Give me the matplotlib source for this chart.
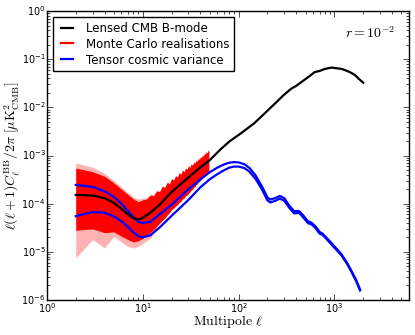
import matplotlib

matplotlib.use("Agg")

import matplotlib.pyplot as plt  # noqa: E402
from matplotlib.lines import Line2D  # noqa: E402

# ── data ──────────────────────────────────────────────────────────────────────

# lensed CMB B-mode (total) spectrum
ell_lens = [2, 3, 4, 5, 6, 7, 8, 9, 10, 12, 15, 20, 30, 40, 50, 65, 80, 106,
            146, 200, 250, 300, 355, 400, 452, 520, 623, 700, 800, 933, 1050,
            1186, 1300, 1450, 1637, 1800, 2000]
cl_lens = [1.52e-4, 1.48e-4, 1.3e-4, 1.04e-4, 7.8e-5, 6.0e-5, 5.0e-5, 4.7e-5,
           5.1e-5, 6.5e-5, 9.5e-5, 1.75e-4, 3.5e-4, 5.7e-4, 8.0e-4, 1.35e-3,
           1.95e-3, 2.9e-3, 4.7e-3, 8.5e-3, 1.3e-2, 1.85e-2, 2.45e-2, 2.8e-2,
           3.35e-2, 4.1e-2, 5.4e-2, 5.7e-2, 6.3e-2, 6.7e-2, 6.5e-2, 6.3e-2,
           5.9e-2, 5.4e-2, 4.7e-2, 3.9e-2, 3.25e-2]

# tensor spectrum +/- cosmic variance
ell_tens = [2, 3, 4, 5, 6, 7, 8, 9, 10, 12, 15, 20, 30, 40, 50, 60, 70, 80, 90,
            100, 115, 130, 150, 175, 200, 215, 240, 270, 300, 340, 380, 430,
            480, 530, 580, 640, 700, 750, 820, 933, 1050, 1186, 1350, 1510,
            1700, 1850]
tens_hi = [2.45e-4, 2.24e-4, 1.8e-4, 1.38e-4, 1.0e-4, 7.1e-5, 5.2e-5, 4.2e-5,
           3.95e-5, 4.2e-5, 6.0e-5, 9.5e-5, 2.0e-4, 3.2e-4, 4.5e-4, 5.6e-4,
           6.5e-4, 7.1e-4, 7.3e-4, 7.2e-4, 6.6e-4, 5.5e-4, 3.9e-4, 2.3e-4,
           1.35e-4, 1.22e-4, 1.3e-4, 1.45e-4, 1.3e-4, 9.0e-5, 7.0e-5, 7.0e-5,
           5.5e-5, 4.3e-5, 4.0e-5, 3.3e-5, 2.6e-5, 2.4e-5, 2.0e-5, 1.52e-5,
           1.17e-5, 8.9e-6, 6.0e-6, 4.0e-6, 2.5e-6, 1.65e-6]
tens_lo = [5.5e-5, 6.7e-5, 6.5e-5, 5.4e-5, 4.3e-5, 3.3e-5, 2.55e-5, 2.1e-5,
           2.0e-5, 2.2e-5, 3.2e-5, 5.6e-5, 1.2e-4, 2.2e-4, 3.2e-4, 4.1e-4,
           4.9e-4, 5.6e-4, 5.9e-4, 5.9e-4, 5.5e-4, 4.6e-4, 3.3e-4, 2.0e-4,
           1.17e-4, 1.06e-4, 1.14e-4, 1.28e-4, 1.15e-4, 8.1e-5, 6.3e-5, 6.4e-5,
           5.0e-5, 3.95e-5, 3.7e-5, 3.05e-5, 2.4e-5, 2.25e-5, 1.88e-5, 1.42e-5,
           1.1e-5, 8.4e-6, 5.7e-6, 3.8e-6, 2.38e-6, 1.58e-6]

# Monte Carlo realisations: envelope at each multipole 2..49
ell_mc = list(range(2, 50))
mc_hi = [5.5e-4, 4.6e-4, 3.7e-4, 2.7e-4, 2.0e-4, 1.55e-4, 1.25e-4, 1.1e-4, 1.2e-4,
         1.25e-4, 1.5e-4, 1.45e-4, 1.85e-4, 1.8e-4, 2.3e-4, 2.2e-4, 2.8e-4, 2.6e-4, 3.3e-4,
         3.1e-4, 3.8e-4, 3.6e-4, 4.4e-4, 4.1e-4, 5.0e-4, 4.6e-4, 5.5e-4, 5.2e-4, 6.1e-4,
         5.7e-4, 6.7e-4, 6.3e-4, 7.3e-4, 6.9e-4, 8.0e-4, 7.5e-4, 8.8e-4, 8.2e-4, 9.5e-4,
         9.0e-4, 1.03e-3, 9.7e-4, 1.12e-3, 1.05e-3, 1.21e-3, 1.13e-3, 1.3e-3, 1.22e-3]
mc_lo = [2.8e-5, 3.0e-5, 2.5e-5, 2.6e-5, 2.1e-5, 1.8e-5, 1.6e-5, 1.7e-5, 1.9e-5,
         2.2e-5, 2.5e-5, 2.9e-5, 3.4e-5, 3.9e-5, 4.5e-5, 5.0e-5, 5.8e-5, 6.5e-5, 7.5e-5,
         8.0e-5, 8.9e-5, 9.5e-5, 1.06e-4, 1.12e-4, 1.25e-4, 1.3e-4, 1.45e-4, 1.5e-4, 1.65e-4,
         1.72e-4, 1.9e-4, 1.98e-4, 2.18e-4, 2.25e-4, 2.48e-4, 2.55e-4, 2.8e-4, 2.86e-4, 3.1e-4,
         3.2e-4, 3.45e-4, 3.55e-4, 3.8e-4, 3.9e-4, 4.2e-4, 4.3e-4, 4.6e-4, 4.75e-4]

# faint outliers at the lowest multipoles (2..14)
ell_faint = list(range(2, 15))
faint_hi = [7.0e-4, 5.7e-4, 4.3e-4, 3.0e-4, 2.2e-4, 1.7e-4, 1.35e-4, 1.25e-4,
            1.3e-4, 1.35e-4, 1.6e-4, 1.55e-4, 1.95e-4]
faint_lo = [7.5e-6, 1.8e-5, 1.2e-5, 2.1e-5, 1.6e-5, 1.3e-5, 1.2e-5, 1.3e-5,
            1.5e-5, 1.7e-5, 1.9e-5, 2.5e-5, 3.0e-5]

# ── figure ────────────────────────────────────────────────────────────────────

plt.style.use("classic")
plt.rcParams["mathtext.fontset"] = "cm"

fig = plt.figure(figsize=(4.15, 3.35), dpi=100, facecolor="white")
ax = fig.add_axes([0.113, 0.1045, 0.8725, 0.8625])

ax.fill_between(ell_faint, faint_lo, faint_hi, color="red", alpha=0.3,
                linewidth=0, zorder=1)
ax.fill_between(ell_mc, mc_lo, mc_hi, color="red", linewidth=0, zorder=2)

ax.plot(ell_lens, cl_lens, color="black", lw=1.6, zorder=4)
ax.plot(ell_tens, tens_hi, color="blue", lw=1.6, zorder=3)
ax.plot(ell_tens, tens_lo, color="blue", lw=1.6, zorder=3)

ax.set_xscale("log")
ax.set_yscale("log")
ax.set_xlim(1, 6000)
ax.set_ylim(1e-6, 1)

ax.set_xlabel(r"${\rm Multipole}\ \ell$", fontsize=10)
ax.set_ylabel(r"$\ell(\ell+1)C_\ell^{\rm BB}/2\pi\ [\mu{\rm K}^2_{\rm CMB}]$",
              fontsize=10)
ax.xaxis.set_label_coords(0.5, -0.044)
ax.yaxis.set_label_coords(-0.07, 0.5)
ax.tick_params(labelsize=7, pad=1)

ax.text(0.962, 0.924, r"$r=10^{-2}$", transform=ax.transAxes,
        ha="right", va="center", fontsize=10)

handles = [
    Line2D([], [], color="black", lw=1.6),
    Line2D([], [], color="red", lw=1.6),
    Line2D([], [], color="blue", lw=1.6),
]
labels = ["Lensed CMB B-mode", "Monte Carlo realisations", "Tensor cosmic variance"]
ax.legend(handles, labels, loc="upper left", fontsize=8.5, handlelength=1.6,
          numpoints=2, borderaxespad=0.5, labelspacing=0.25, handletextpad=0.8)

fig.savefig("out.png", dpi=100, facecolor="white")
